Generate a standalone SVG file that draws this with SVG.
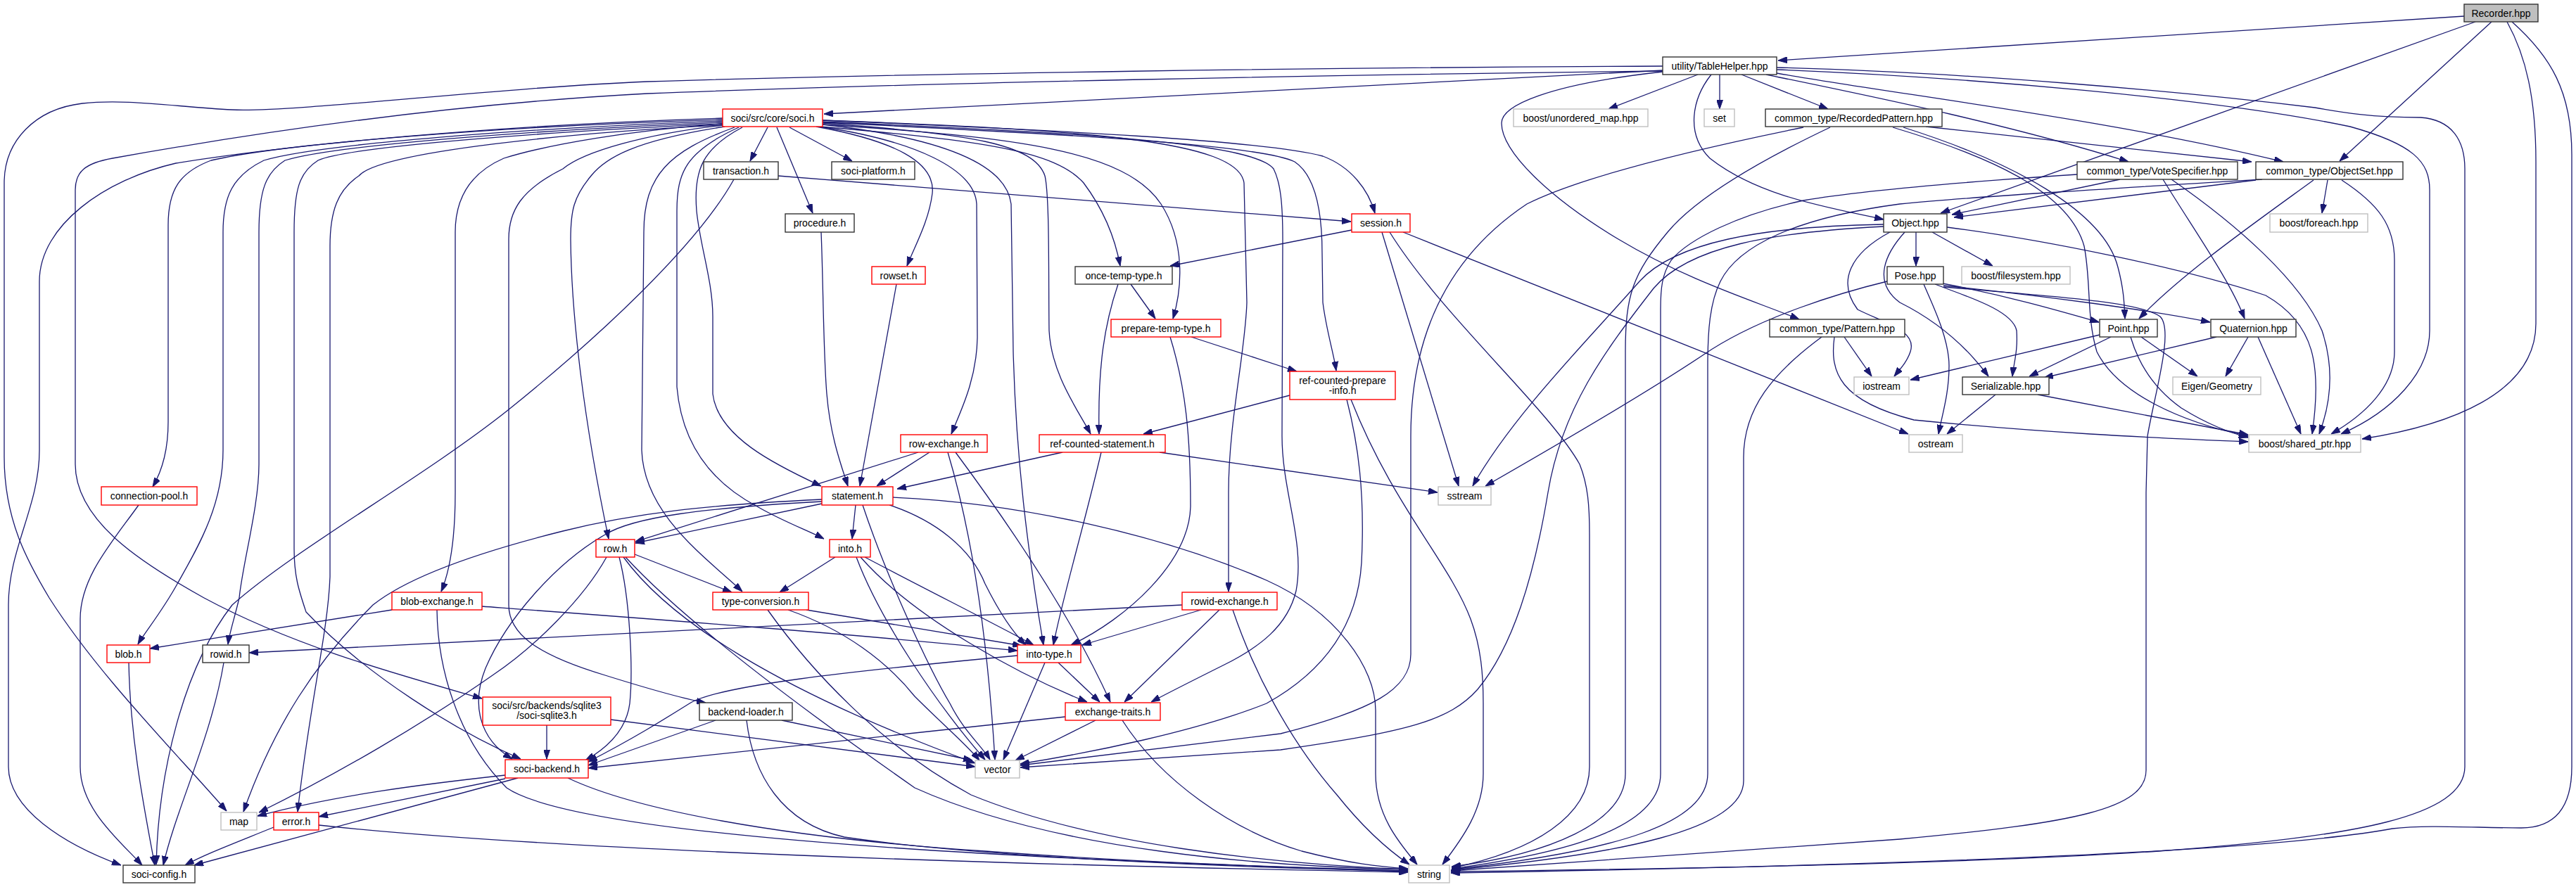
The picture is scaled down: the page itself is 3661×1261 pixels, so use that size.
<svg xmlns="http://www.w3.org/2000/svg" width="3661" height="1261" viewBox="0 0 3661 1261">
<style>
.n rect{stroke-width:1.4}
.doc rect{fill:#fff;stroke:#333}
.red rect{fill:#fff;stroke:#ff0000}
.ext rect{fill:#fff;stroke:#bfbfbf}
.root rect{fill:#bfbfbf;stroke:#333}
text{font-family:"Liberation Sans",Arial,sans-serif;font-size:14px;fill:#000;text-anchor:middle}
#edges path{fill:none;stroke:#191970;stroke-width:1.3;marker-end:url(#ah)}
</style>
<defs>
<marker id="ah" viewBox="0 0 13 9" refX="13" refY="4.5" markerWidth="13" markerHeight="9" markerUnits="userSpaceOnUse" orient="auto">
<path d="M0,0 L13,4.5 L0,9 z" fill="#191970" stroke="#191970" stroke-width="1"/>
</marker>
</defs>
<rect width="3661" height="1261" fill="#fff"/>
<g id="edges">
<path d="M3502,23 L2527,86"/>
<path d="M3518,31 L2758,303"/>
<path d="M3541,31 L3325,229"/>
<path d="M3563,31 C3590,80 3604,140 3604,230 L3604,460 C3604,560 3480,605 3357,624"/>
<path d="M3570,31 C3625,80 3655,130 3655,220 L3655,1090 C3655,1150 3630,1177 3583,1177 C3520,1177 3450,1172 3400,1178 C3200,1215 2600,1232 2062,1241"/>
<path d="M2363,100 L1171,162"/>
<path d="M2363,94 C1900,96 1300,104 920,116 C700,125 420,160 330,156 C250,152 180,140 117,147 C50,155 6,200 6,260 L6,650 C6,740 40,800 70,850 C140,960 250,1070 322,1153"/>
<path d="M2363,101 C1900,106 1300,118 920,133 C600,150 300,200 160,225 C120,232 107,245 107,270 L107,660 C107,740 200,800 290,850 C420,920 570,960 685,993"/>
<path d="M2413,106 L2286,155"/>
<path d="M2444,106 L2444,155"/>
<path d="M2475,106 L2598,155"/>
<path d="M2432,106 C2405,140 2395,190 2430,225 C2500,280 2600,295 2677,312"/>
<path d="M2363,102 C2200,120 2134,150 2134,175 C2134,215 2200,280 2300,340 C2400,400 2500,430 2557,454"/>
<path d="M2510,106 C2650,135 2850,175 3025,230"/>
<path d="M2525,104 C2700,135 3000,170 3245,230"/>
<path d="M2525,99 C2800,110 3150,140 3340,180 C3430,205 3453,230 3453,270 L3453,470 C3453,530 3400,585 3327,617"/>
<path d="M2525,96 C2800,103 3100,130 3290,153 C3330,160 3370,167 3440,167 C3485,170 3503,200 3503,240 L3503,1090 C3503,1160 3350,1190 3068,1210 C2800,1228 2400,1235 2062,1239"/>
<path d="M2737,180 L3200,230"/>
<path d="M2705,181 C2860,230 2990,300 3010,380 C3018,410 3019,430 3020,453"/>
<path d="M2690,181 C2820,220 2940,270 2962,350 C2972,400 2965,450 2980,500 C3010,560 3100,600 3195,620"/>
<path d="M2601,181 C2540,210 2420,270 2370,330 C2320,390 2310,420 2310,500 L2310,1100 C2310,1170 2200,1215 2063,1232"/>
<path d="M2563,181 C2420,210 2250,250 2170,290 C2080,350 2005,450 2005,620 L2005,930 C2005,980 1950,1010 1820,1043 L1450,1088"/>
<path d="M3013,255 L2774,305"/>
<path d="M3074,255 C3120,330 3170,400 3190,453"/>
<path d="M3086,255 C3180,320 3270,400 3300,470 C3320,530 3310,580 3296,617"/>
<path d="M2952,248 C2800,258 2650,270 2563,285 C2470,305 2400,340 2375,370 C2362,390 2360,410 2360,440 L2360,1100 C2360,1170 2250,1210 2063,1235"/>
<path d="M3206,256 L2777,309"/>
<path d="M3308,256 L3300,303"/>
<path d="M3328,256 C3380,290 3403,320 3403,370 L3403,500 C3403,550 3360,590 3313,617"/>
<path d="M3288,256 C3200,320 3100,390 3040,453"/>
<path d="M3215,255 C3000,268 2800,280 2700,290 C2550,310 2470,350 2445,400 C2430,430 2427,470 2427,520 L2427,1100 C2427,1170 2300,1210 2063,1236"/>
<path d="M2723,330 L2723,378"/>
<path d="M2746,330 L2832,378"/>
<path d="M2767,323 C2900,340 3100,380 3220,420 C3290,460 3300,520 3286,617"/>
<path d="M2677,319 C2500,322 2380,345 2330,400 C2260,480 2150,590 2093,691"/>
<path d="M2677,322 C2520,330 2400,350 2350,410 C2280,500 2220,580 2200,700 C2180,820 2150,920 2100,980 C2060,1025 2000,1040 1820,1066 L1450,1091"/>
<path d="M2686,330 C2630,360 2610,400 2640,440 C2680,460 2725,470 2715,500 C2710,515 2700,525 2692,535"/>
<path d="M2707,330 C2680,360 2660,400 2700,430 C2760,460 2800,500 2826,535"/>
<path d="M2761,403 C2850,420 2920,440 2983,458"/>
<path d="M2762,406 C2900,420 3050,440 3141,458"/>
<path d="M2750,404 C2790,420 2860,440 2866,470 C2868,500 2862,515 2860,535"/>
<path d="M2734,404 C2745,430 2770,480 2770,520 C2770,560 2760,590 2755,617"/>
<path d="M2682,400 C2620,415 2500,450 2420,505 C2330,565 2200,640 2111,691"/>
<path d="M2762,408 C2900,420 3040,428 3070,450 C3090,470 3062,560 3052,620 L3050,700 L3050,1095 C3050,1150 2950,1170 2700,1193 L2062,1238"/>
<path d="M2621,479 L2660,535"/>
<path d="M2589,479 C2520,530 2478,580 2478,650 L2478,1110 C2478,1180 2300,1215 2062,1237"/>
<path d="M2607,479 C2600,530 2615,570 2720,597 C2900,615 3050,622 3195,628"/>
<path d="M2984,476 L2715,540"/>
<path d="M3000,479 L2884,535"/>
<path d="M3043,479 L3123,535"/>
<path d="M3028,479 C3040,520 3062,553 3100,580 C3140,605 3170,615 3195,622"/>
<path d="M3150,479 L2905,537"/>
<path d="M3195,479 L3163,535"/>
<path d="M3209,479 L3270,617"/>
<path d="M2836,561 L2767,617"/>
<path d="M2896,561 L3195,618"/>
<path d="M1921,327 L1663,378"/>
<path d="M1964,330 L2073,691"/>
<path d="M1975,330 C2050,450 2200,580 2245,660 C2257,690 2259,720 2259,760 L2259,1090 C2259,1160 2180,1210 2063,1234"/>
<path d="M1994,330 L2712,617"/>
<path d="M1043,255 C990,350 850,480 722,583 C600,680 420,780 330,860 C260,950 225,1100 222,1229"/>
<path d="M1106,250 L1920,315"/>
<path d="M1167,330 C1170,400 1170,500 1175,560 C1180,620 1195,660 1205,691"/>
<path d="M1274,404 L1222,691"/>
<path d="M1607,404 L1642,453"/>
<path d="M1589,404 C1570,460 1560,520 1562,617"/>
<path d="M1693,479 L1843,528"/>
<path d="M1663,479 C1685,550 1692,620 1692,720 C1690,800 1600,880 1522,917"/>
<path d="M1833,562 L1625,617"/>
<path d="M1914,568 C1930,630 1940,700 1935,800 C1930,880 1890,950 1800,1000 C1700,1040 1550,1070 1450,1086"/>
<path d="M1920,568 C1980,720 2060,800 2090,880 C2105,920 2108,960 2108,1000 L2108,1100 C2108,1150 2080,1190 2050,1229"/>
<path d="M1510,643 L1275,695"/>
<path d="M1648,643 L2043,700"/>
<path d="M1565,643 C1540,750 1510,850 1497,917"/>
<path d="M1321,643 L1246,691"/>
<path d="M1305,643 L903,770"/>
<path d="M1347,643 C1370,720 1400,850 1414,1080"/>
<path d="M1358,643 C1430,740 1520,870 1578,998"/>
<path d="M1027,168 C700,178 420,205 250,232 C150,255 56,320 56,400 L56,640 C56,720 12,780 12,860 L12,1090 C12,1150 90,1200 172,1230"/>
<path d="M1027,170 C700,180 400,205 300,228 C255,245 239,270 239,320 L239,600 C239,640 230,670 217,692"/>
<path d="M1027,172 C750,182 450,205 375,228 C330,250 317,280 317,330 L317,640 C317,720 280,780 252,830 C230,870 205,900 196,916"/>
<path d="M1027,174 C780,184 480,205 405,228 C378,245 368,270 368,330 L368,660 C368,720 345,800 340,850 C333,880 326,900 324,916"/>
<path d="M1027,176 C800,186 500,207 452,228 C425,245 418,270 418,330 L418,780 C418,820 425,840 435,870 C520,960 650,1040 740,1079"/>
<path d="M1027,178 C820,188 540,215 510,250 C480,270 469,300 469,350 L469,820 C466,900 440,1000 423,1154"/>
<path d="M1027,176 C900,185 780,205 716,225 C670,245 647,280 647,330 L647,700 C647,760 640,810 627,841"/>
<path d="M1027,178 C920,190 830,215 800,240 C740,270 723,300 723,340 L723,860 C723,900 760,930 860,960 C940,985 980,995 1003,999"/>
<path d="M1030,180 C900,200 860,225 840,250 C815,280 811,300 811,340 C812,450 830,600 865,766"/>
<path d="M1091,181 L1066,229"/>
<path d="M1122,181 L1211,229"/>
<path d="M1104,181 L1155,303"/>
<path d="M1160,180 C1270,200 1330,230 1325,275 C1320,315 1300,350 1289,378"/>
<path d="M1169,171 C1500,185 1800,200 1880,222 C1920,237 1945,270 1954,303"/>
<path d="M1165,180 C1400,200 1500,215 1540,260 C1570,300 1585,340 1592,378"/>
<path d="M1169,177 C1450,195 1600,215 1650,290 C1685,345 1680,410 1667,453"/>
<path d="M1169,174 C1500,190 1790,205 1840,230 C1870,250 1879,300 1879,360 L1880,430 C1885,470 1895,500 1899,527"/>
<path d="M1169,175 C1380,190 1470,205 1485,250 C1492,280 1490,400 1491,470 C1494,530 1530,580 1550,617"/>
<path d="M1165,180 C1300,200 1385,240 1388,290 L1389,480 C1388,540 1365,585 1352,617"/>
<path d="M1055,181 C1000,210 985,240 990,300 C995,350 1013,400 1013,450 L1013,560 C1020,620 1100,660 1167,691"/>
<path d="M1050,181 C975,215 962,245 962,300 L962,550 C968,620 1000,680 1076,720 C1110,740 1150,755 1171,766"/>
<path d="M1044,181 C950,215 915,250 915,330 L912,640 C915,730 1000,790 1055,841"/>
<path d="M1169,177 C1330,195 1430,230 1437,290 L1440,500 C1444,650 1460,780 1483,917"/>
<path d="M1169,173 C1500,188 1780,200 1810,240 C1820,260 1823,290 1823,340 L1822,620 C1822,700 1855,770 1842,840 C1830,890 1790,920 1740,945 C1700,965 1660,985 1636,998"/>
<path d="M1169,171 C1550,185 1760,200 1768,260 L1772,430 C1770,500 1746,600 1746,700 L1746,841"/>
<path d="M1216,718 L1211,766"/>
<path d="M1168,716 L903,772"/>
<path d="M1226,718 C1260,820 1320,950 1350,1000 C1370,1040 1395,1060 1407,1080"/>
<path d="M1264,718 C1330,740 1380,780 1400,830 C1420,870 1440,900 1458,917"/>
<path d="M1269,707 C1450,715 1650,760 1800,825 C1900,870 1955,950 1955,1010 L1955,1100 C1955,1160 1990,1200 2014,1229"/>
<path d="M1168,710 C1000,718 900,730 800,755 C680,785 580,820 530,860 C450,940 390,1030 346,1154"/>
<path d="M1168,713 C1000,722 900,735 860,760 C790,800 720,880 690,950 C670,1000 680,1050 728,1079"/>
<path d="M1187,792 L1108,842"/>
<path d="M1229,792 C1320,840 1420,890 1469,917"/>
<path d="M1223,792 C1300,880 1450,960 1545,998"/>
<path d="M1217,792 C1250,880 1330,1000 1400,1080"/>
<path d="M1146,867 L1452,918"/>
<path d="M1120,867 C1200,895 1260,940 1300,990 C1340,1030 1375,1060 1392,1081"/>
<path d="M1091,867 C1150,950 1250,1060 1380,1130 C1550,1200 1800,1228 2001,1236"/>
<path d="M902,788 L1040,842"/>
<path d="M862,792 C830,850 760,920 700,960 C600,1030 480,1100 368,1155"/>
<path d="M880,792 C895,850 900,950 895,1000 C890,1040 860,1065 832,1081"/>
<path d="M886,792 C950,880 1100,980 1386,1085"/>
<path d="M889,792 C960,870 1100,980 1300,1120 C1500,1210 1800,1232 2001,1236"/>
<path d="M557,867 L213,922"/>
<path d="M685,862 C900,878 1200,900 1446,925"/>
<path d="M621,867 C622,950 650,1050 720,1120 C800,1175 1200,1215 2001,1238"/>
<path d="M1680,860 L354,928"/>
<path d="M1707,867 L1538,917"/>
<path d="M1733,867 L1598,998"/>
<path d="M1752,867 C1780,950 1830,1050 1900,1130 C1940,1180 1975,1210 2003,1229"/>
<path d="M1504,942 L1563,998"/>
<path d="M1485,942 L1426,1080"/>
<path d="M1446,932 C1200,955 1020,975 980,1000 C940,1025 900,1050 836,1083"/>
<path d="M1557,1024 L1443,1081"/>
<path d="M1514,1019 L836,1092"/>
<path d="M1595,1024 C1650,1110 1750,1180 1850,1210 C1920,1228 1960,1232 2001,1235"/>
<path d="M1017,1024 L836,1088"/>
<path d="M1111,1024 L1382,1081"/>
<path d="M1061,1024 C1070,1100 1110,1170 1200,1190 C1400,1220 1800,1235 2001,1238"/>
<path d="M777,1031 L777,1079"/>
<path d="M868,1023 L1386,1090"/>
<path d="M736,1106 L276,1230"/>
<path d="M718,1102 C600,1115 480,1130 366,1160"/>
<path d="M718,1107 L453,1161"/>
<path d="M807,1106 C900,1150 1100,1190 1400,1210 C1600,1225 1800,1232 2001,1239"/>
<path d="M453,1173 C700,1200 1200,1225 2001,1240"/>
<path d="M389,1176 C330,1200 290,1215 263,1230"/>
<path d="M183,942 C185,1050 205,1150 220,1230"/>
<path d="M318,942 C300,1050 250,1150 232,1230"/>
<path d="M197,718 C160,770 114,820 114,880 L114,1090 C114,1150 170,1195 202,1230"/>
</g>
<g id="n_recorder" class="n root"><rect x="3502" y="6" width="105" height="25"/><text x="3554.5" y="23.5">Recorder.hpp</text></g>
<g id="n_tablehelper" class="n doc"><rect x="2363" y="81" width="162" height="25"/><text x="2444" y="98.5">utility/TableHelper.hpp</text></g>
<g id="n_soci" class="n red"><rect x="1027" y="155" width="142" height="25"/><text x="1098" y="172.5">soci/src/core/soci.h</text></g>
<g id="n_unordered_map" class="n ext"><rect x="2151" y="155" width="191" height="25"/><text x="2246.5" y="172.5">boost/unordered_map.hpp</text></g>
<g id="n_set" class="n ext"><rect x="2422" y="155" width="43" height="25"/><text x="2443.5" y="172.5">set</text></g>
<g id="n_recordedpattern" class="n doc"><rect x="2509" y="155" width="251" height="25"/><text x="2634.5" y="172.5">common_type/RecordedPattern.hpp</text></g>
<g id="n_transaction" class="n doc"><rect x="1000" y="230" width="106" height="25"/><text x="1053" y="247.5">transaction.h</text></g>
<g id="n_soci_platform" class="n doc"><rect x="1182" y="230" width="118" height="25"/><text x="1241" y="247.5">soci-platform.h</text></g>
<g id="n_votespecifier" class="n doc"><rect x="2952" y="230" width="228" height="25"/><text x="3066" y="247.5">common_type/VoteSpecifier.hpp</text></g>
<g id="n_objectset" class="n doc"><rect x="3206" y="230" width="209" height="25"/><text x="3310.5" y="247.5">common_type/ObjectSet.hpp</text></g>
<g id="n_procedure" class="n doc"><rect x="1116" y="304" width="98" height="26"/><text x="1165" y="322">procedure.h</text></g>
<g id="n_session" class="n red"><rect x="1921" y="304" width="83" height="26"/><text x="1962.5" y="322">session.h</text></g>
<g id="n_object" class="n doc"><rect x="2677" y="304" width="90" height="26"/><text x="2722" y="322">Object.hpp</text></g>
<g id="n_foreach" class="n ext"><rect x="3226" y="304" width="139" height="26"/><text x="3295.5" y="322">boost/foreach.hpp</text></g>
<g id="n_rowset" class="n red"><rect x="1239" y="379" width="76" height="25"/><text x="1277" y="396.5">rowset.h</text></g>
<g id="n_once_temp" class="n doc"><rect x="1528" y="379" width="138" height="25"/><text x="1597" y="396.5">once-temp-type.h</text></g>
<g id="n_pose" class="n doc"><rect x="2682" y="379" width="80" height="25"/><text x="2722" y="396.5">Pose.hpp</text></g>
<g id="n_filesystem" class="n ext"><rect x="2788" y="379" width="154" height="25"/><text x="2865" y="396.5">boost/filesystem.hpp</text></g>
<g id="n_prepare_temp" class="n red"><rect x="1579" y="454" width="156" height="25"/><text x="1657" y="471.5">prepare-temp-type.h</text></g>
<g id="n_pattern" class="n doc"><rect x="2515" y="454" width="192" height="25"/><text x="2611" y="471.5">common_type/Pattern.hpp</text></g>
<g id="n_point" class="n doc"><rect x="2984" y="454" width="82" height="25"/><text x="3025" y="471.5">Point.hpp</text></g>
<g id="n_quaternion" class="n doc"><rect x="3142" y="454" width="121" height="25"/><text x="3202.5" y="471.5">Quaternion.hpp</text></g>
<g id="n_refprep" class="n red"><rect x="1833" y="528" width="150" height="40"/><text x="1908" y="546">ref-counted-prepare</text><text x="1908" y="560">-info.h</text></g>
<g id="n_iostream" class="n ext"><rect x="2635" y="536" width="78" height="25"/><text x="2674" y="553.5">iostream</text></g>
<g id="n_serializable" class="n doc"><rect x="2789" y="536" width="123" height="25"/><text x="2850.5" y="553.5">Serializable.hpp</text></g>
<g id="n_eigen" class="n ext"><rect x="3088" y="536" width="125" height="25"/><text x="3150.5" y="553.5">Eigen/Geometry</text></g>
<g id="n_row_exchange" class="n red"><rect x="1280" y="618" width="123" height="25"/><text x="1341.5" y="635.5">row-exchange.h</text></g>
<g id="n_refstmt" class="n red"><rect x="1477" y="618" width="179" height="25"/><text x="1566.5" y="635.5">ref-counted-statement.h</text></g>
<g id="n_ostream" class="n ext"><rect x="2713" y="618" width="76" height="25"/><text x="2751" y="635.5">ostream</text></g>
<g id="n_shared_ptr" class="n ext"><rect x="3196" y="618" width="159" height="25"/><text x="3275.5" y="635.5">boost/shared_ptr.hpp</text></g>
<g id="n_connection_pool" class="n red"><rect x="144" y="692" width="136" height="26"/><text x="212" y="710">connection-pool.h</text></g>
<g id="n_statement" class="n red"><rect x="1168" y="692" width="101" height="26"/><text x="1218.5" y="710">statement.h</text></g>
<g id="n_sstream" class="n ext"><rect x="2044" y="692" width="75" height="26"/><text x="2081.5" y="710">sstream</text></g>
<g id="n_row" class="n red"><rect x="847" y="767" width="55" height="25"/><text x="874.5" y="784.5">row.h</text></g>
<g id="n_into" class="n red"><rect x="1179" y="767" width="58" height="25"/><text x="1208" y="784.5">into.h</text></g>
<g id="n_blob_exchange" class="n red"><rect x="557" y="842" width="128" height="25"/><text x="621" y="859.5">blob-exchange.h</text></g>
<g id="n_type_conversion" class="n red"><rect x="1013" y="842" width="136" height="25"/><text x="1081" y="859.5">type-conversion.h</text></g>
<g id="n_rowid_exchange" class="n red"><rect x="1680" y="842" width="135" height="25"/><text x="1747.5" y="859.5">rowid-exchange.h</text></g>
<g id="n_blob" class="n red"><rect x="152" y="917" width="61" height="25"/><text x="182.5" y="934.5">blob.h</text></g>
<g id="n_rowid" class="n doc"><rect x="288" y="917" width="66" height="25"/><text x="321" y="934.5">rowid.h</text></g>
<g id="n_into_type" class="n red"><rect x="1446" y="917" width="90" height="25"/><text x="1491" y="934.5">into-type.h</text></g>
<g id="n_sqlite3" class="n red"><rect x="686" y="991" width="182" height="40"/><text x="777" y="1008">soci/src/backends/sqlite3</text><text x="777" y="1022">/soci-sqlite3.h</text></g>
<g id="n_backend_loader" class="n doc"><rect x="994" y="999" width="132" height="25"/><text x="1060" y="1016.5">backend-loader.h</text></g>
<g id="n_exchange_traits" class="n red"><rect x="1514" y="999" width="135" height="25"/><text x="1581.5" y="1016.5">exchange-traits.h</text></g>
<g id="n_soci_backend" class="n red"><rect x="718" y="1080" width="118" height="26"/><text x="777" y="1098">soci-backend.h</text></g>
<g id="n_vector" class="n ext"><rect x="1386" y="1081" width="63" height="25"/><text x="1417.5" y="1098.5">vector</text></g>
<g id="n_map" class="n ext"><rect x="314" y="1155" width="51" height="25"/><text x="339.5" y="1172.5">map</text></g>
<g id="n_error" class="n red"><rect x="389" y="1155" width="64" height="25"/><text x="421" y="1172.5">error.h</text></g>
<g id="n_soci_config" class="n doc"><rect x="175" y="1230" width="102" height="25"/><text x="226" y="1247.5">soci-config.h</text></g>
<g id="n_string" class="n ext"><rect x="2002" y="1230" width="58" height="25"/><text x="2031" y="1247.5">string</text></g>
</svg>
